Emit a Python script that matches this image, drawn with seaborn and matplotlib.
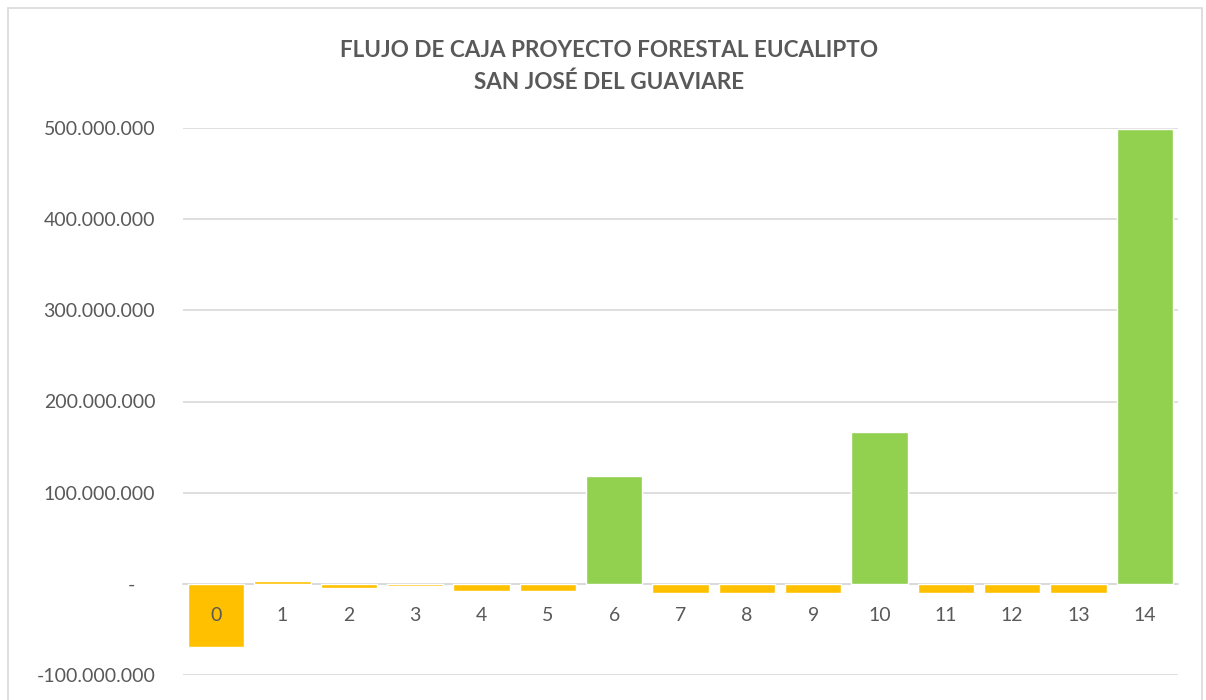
import pandas as pd
import matplotlib.pyplot as plt
import seaborn as sns
from matplotlib.patches import Rectangle
from matplotlib.ticker import FuncFormatter

# datos del flujo de caja (COP)
periodos = [str(i) for i in range(15)]
flujo = [-69e6, 3.5e6, -5e6, -2e6, -8e6, -8e6, 118e6, -10e6, -10e6, -10e6,
         166e6, -10e6, -10e6, -10e6, 499e6]
titulo = "FLUJO DE CAJA PROYECTO FORESTAL EUCALIPTO\nSAN JOSÉ DEL GUAVIARE"

df = pd.DataFrame({"periodo": periodos, "flujo": flujo})
df["signo"] = ["positivo" if v > 50e6 else "negativo" for v in df["flujo"]]

sns.set_style("white")
plt.rcParams['font.family'] = ['Lato', 'DejaVu Sans']

gris = "#595959"
fig = plt.figure(figsize=(12.06, 7), dpi=100)
fig.patches.append(Rectangle((8 / 1206, -0.01), 1194 / 1206, 1 - 8 / 700 + 0.01,
                             transform=fig.transFigure, fill=False,
                             edgecolor="#D9D9D9", linewidth=1.2))
ax = fig.add_axes([183 / 1206, 25 / 700, 995 / 1206, 547 / 700])

sns.barplot(data=df, x="periodo", y="flujo", hue="signo", dodge=False,
            palette={"positivo": "#92D050", "negativo": "#FFC000"},
            saturation=1, width=0.85, legend=False, ax=ax, zorder=3)

ax.set_ylim(-100e6, 500e6)
ax.set_xlim(-0.5, 14.5)
ax.set_yticks([-100e6, 0, 100e6, 200e6, 300e6, 400e6, 500e6])


def fmt(v, pos):
    if v == 0:
        return "-    "
    return f"{v:,.0f}".replace(",", ".")


ax.yaxis.set_major_formatter(FuncFormatter(fmt))
ax.grid(axis="y", color="#D9D9D9", linewidth=1.2, zorder=0)
for s in ["top", "right", "left"]:
    ax.spines[s].set_visible(False)
ax.spines["bottom"].set_position(("data", 0))
ax.spines["bottom"].set_color("#D9D9D9")
ax.spines["bottom"].set_linewidth(1.2)
ax.xaxis.set_zorder(5)
ax.tick_params(axis="x", length=0, pad=17, labelsize=14, labelcolor=gris)
ax.tick_params(axis="y", length=0, pad=20, labelsize=14, labelcolor=gris)
ax.set_xlabel("")
ax.set_ylabel("")

fig.text(0.505, 0.905, titulo, ha="center", va="center", fontsize=16.2,
         fontweight="bold", color=gris, linespacing=1.55)

fig.savefig("out.png", dpi=100)
